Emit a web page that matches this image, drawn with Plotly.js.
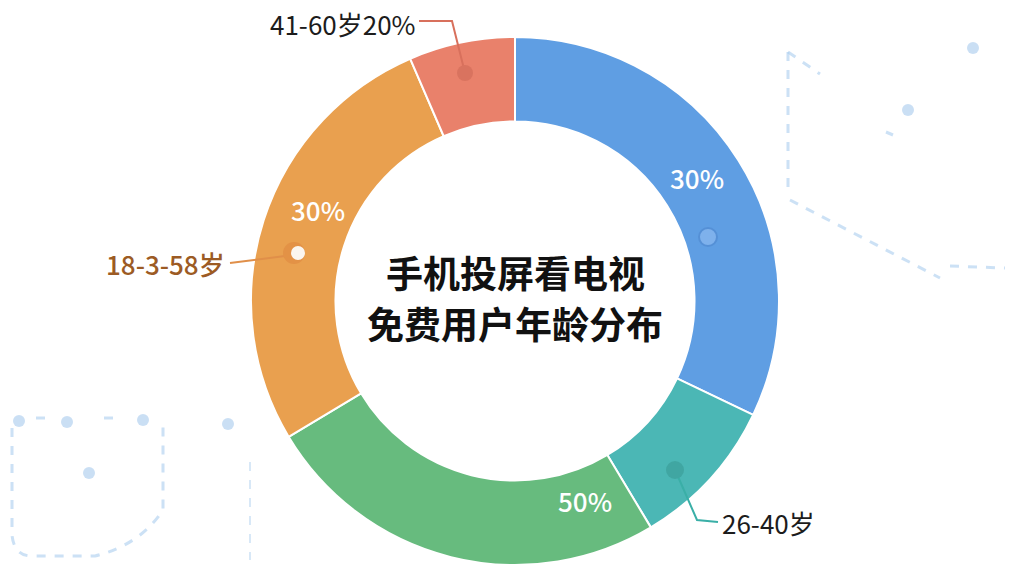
<!DOCTYPE html>
<html>
<head>
<meta charset="utf-8">
<script src="https://cdn.plot.ly/plotly-3.0.1.min.js"></script>
<style>
html,body{margin:0;padding:0;background:#ffffff;}
#chart{width:1024px;height:576px;}
</style>
</head>
<body>
<div id="chart"></div>
<script>
// ---- data ----
var categories = ['蓝色区段', '26-40岁', '绿色区段', '18-3-58岁', '41-60岁'];
var values = [32.1, 9.3, 25.0, 27.1, 6.5];
var insideLabels = ['30%', '', '50%', '30%', ''];
var outsideLabels = ['', '26-40岁', '', '18-3-58岁', '41-60岁20%'];
var titleLines = ['手机投屏看电视', '免费用户年龄分布'];

// ---- style ----
var colors = ['#5f9ee3', '#4bb7b5', '#67bb7e', '#e9a04f', '#e9816b'];
var W = 1024, H = 576;
function px(x){ return x / W; }
function py(y){ return 1 - y / H; }
var cx = 515, cy = 301, R = 264;

var trace = {
  type: 'pie',
  labels: categories,
  values: values,
  sort: false,
  direction: 'clockwise',
  rotation: 0,
  hole: 0.68,
  textinfo: 'none',
  hoverinfo: 'label+percent',
  marker: {colors: colors, line: {color: '#ffffff', width: 2}},
  domain: {x: [px(cx - R), px(cx + R)], y: [py(cy + R), py(cy - R)]},
  showlegend: false
};

var shapes = [];
var deco = 'rgba(170,205,238,0.6)';
function dline(path, w){ shapes.push({type:'path', xref:'paper', yref:'paper', layer:'below', path:path, line:{color:deco, width:w||3, dash:'dash'}}); }
function P(x,y){ return px(x)+','+py(y); }
function dot(x,y,r,fill,lineColor,lw){
  shapes.push({type:'circle', xref:'paper', yref:'paper', x0:px(x-r), x1:px(x+r), y0:py(y+r), y1:py(y-r), fillcolor:fill, line:{color:lineColor||fill, width:lw||0}});
}
// background decorations (right)
dline('M'+P(788,52)+' L'+P(788,196));
dline('M'+P(788,52)+' L'+P(820,74));
dline('M'+P(790,200)+' L'+P(940,278));
dline('M'+P(950,266)+' L'+P(1005,268));
dot(973,48,6,'rgba(180,210,240,0.7)');
dot(908,110,6,'rgba(180,210,240,0.7)');
dline('M'+P(886,132)+' L'+P(893,135));
// background decorations (bottom-left)
dline('M'+P(12,428)+' L'+P(12,535)+' Q'+P(14,556)+' '+P(32,556)+' L'+P(95,556)+' Q'+P(140,545)+' '+P(163,510)+' L'+P(163,427));
dline('M'+P(36,418)+' L'+P(52,418));
dline('M'+P(104,418)+' L'+P(120,418));
dline('M'+P(250,462)+' L'+P(250,560), 1.5);
dot(19,421,6,'rgba(180,210,240,0.7)');
dot(67,422,6,'rgba(180,210,240,0.7)');
dot(143,420,6,'rgba(180,210,240,0.7)');
dot(228,424,6,'rgba(180,210,240,0.7)');
dot(89,473,6,'rgba(180,210,240,0.7)');

// leader lines
function lead(path, color){ shapes.push({type:'path', xref:'paper', yref:'paper', path:path, line:{color:color, width:2}}); }
lead('M'+P(419,21)+' L'+P(452,21)+' L'+P(465,73), '#d8705c');
lead('M'+P(676,472)+' L'+P(697,520)+' L'+P(718,522), '#3aafa7');
lead('M'+P(230,263)+' L'+P(285,256), '#e08f49');
// slice dots
dot(465,73,8,'#d9735f');
dot(675,470,9,'#40a6a2');
dot(294,253,11,'#e39246');
dot(298,253,7,'#fbf6ef');
dot(708,237,9,'#7eb1ec','#5590d6',2);

var annotations = [];
function ann(x,y,text,size,color,weight,xanchor){
  annotations.push({xref:'paper', yref:'paper', x:px(x), y:py(y), text:text, showarrow:false,
    xanchor:xanchor||'center', yanchor:'middle',
    font:{family:'"Noto Sans CJK SC", "Noto Sans", sans-serif', size:size, color:color, weight:weight||400}});
}
ann(515, 272, titleLines[0], 37, '#111111', 700);
ann(515, 323, titleLines[1], 37, '#111111', 700);
ann(697, 177, insideLabels[0], 26, '#ffffff', 500);
ann(585, 500, insideLabels[2], 26, '#ffffff', 500);
ann(318, 210, insideLabels[3], 26, '#ffffff', 500);
ann(418, 24, outsideLabels[4], 26, '#1c1c1c', 400, 'right');
ann(720, 522, outsideLabels[1], 26, '#1c1c1c', 400, 'left');
ann(227, 264, outsideLabels[3], 26, '#9c5b24', 500, 'right');

var layout = {
  width: W, height: H,
  margin: {l:0, r:0, t:0, b:0},
  paper_bgcolor: '#ffffff',
  plot_bgcolor: '#ffffff',
  shapes: shapes,
  annotations: annotations
};
Plotly.newPlot('chart', [trace], layout, {displayModeBar:false, staticPlot:true});
</script>
</body>
</html>
